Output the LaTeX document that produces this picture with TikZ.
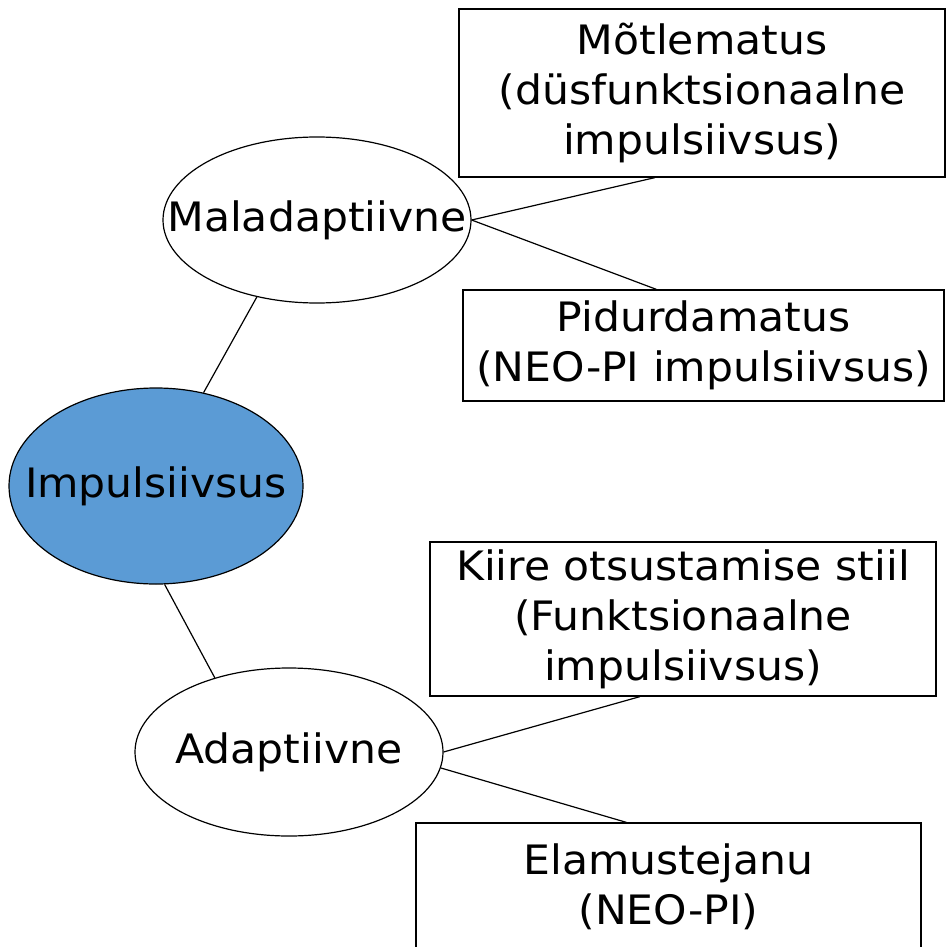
\documentclass[tikz,border=0pt]{standalone}
\usepackage{fontspec}
\setmainfont{DejaVu Sans}[FakeStretch=1.05]
\usepackage{xcolor}
\usetikzlibrary{shapes.geometric}
\definecolor{impulseBlue}{RGB}{91,155,213}

\begin{document}
\begin{tikzpicture}[x=1pt, y=-1pt]
            \tikzstyle{ovalnode} = [ellipse, draw=black, fill=white, line width=1.2pt, inner sep=0pt, font=\fontsize{40.5}{50}\selectfont]
            \tikzstyle{textbox} = [rectangle, draw=black, fill=white, line width=1.2pt, align=center, inner sep=0pt, font=\fontsize{40.5}{50}\selectfont]
            \tikzstyle{link} = [line width=1.2pt, black]
            \useasboundingbox (0,0) rectangle (946,947);

            \node[ovalnode, fill=impulseBlue, minimum width=294pt, minimum height=196pt] (imp) at (156,486) {\makebox[0pt]{Impulsiivsus}};
            \node[ovalnode, minimum width=308pt, minimum height=166pt] (mal) at (317,220) {\makebox[0pt]{Maladaptiivne}};
            \node[ovalnode, minimum width=308pt, minimum height=168pt] (adp) at (289,752) {\makebox[0pt]{Adaptiivne}};

            \node[textbox, minimum width=486pt, minimum height=168pt] (mot) at (702,93) {Mõtlematus\\(düsfunktsionaalne\\impulsiivsus)};
            \node[textbox, minimum width=481pt, minimum height=111pt] (pid) at (703.5,345.5) {Pidurdamatus\\(NEO-PI impulsiivsus)};
            \node[textbox, minimum width=506pt, minimum height=154pt] (kii) at (683,619) {Kiire otsustamise stiil\\(Funktsionaalne\\impulsiivsus)};
            \begin{scope}
              \clip (0,0) rectangle (946,947);
              \node[textbox, minimum width=505pt, minimum height=128pt] (ela) at (668.5,887) {Elamustejanu\\(NEO-PI)};
            \end{scope}

            \draw[link] (mal.232) -- (imp.63);
            \draw[link] (imp.-85) -- (adp.135);
            \draw[link] (mal.east) -- ([xshift=-47pt]mot.south);
            \draw[link] (mal.east) -- ([xshift=-47pt]pid.north);
            \draw[link] (adp.east) -- ([xshift=-43pt]kii.south);
            \draw[link] (adp.-6) -- ([xshift=-42pt]ela.north);
        \end{tikzpicture}
\end{document}
